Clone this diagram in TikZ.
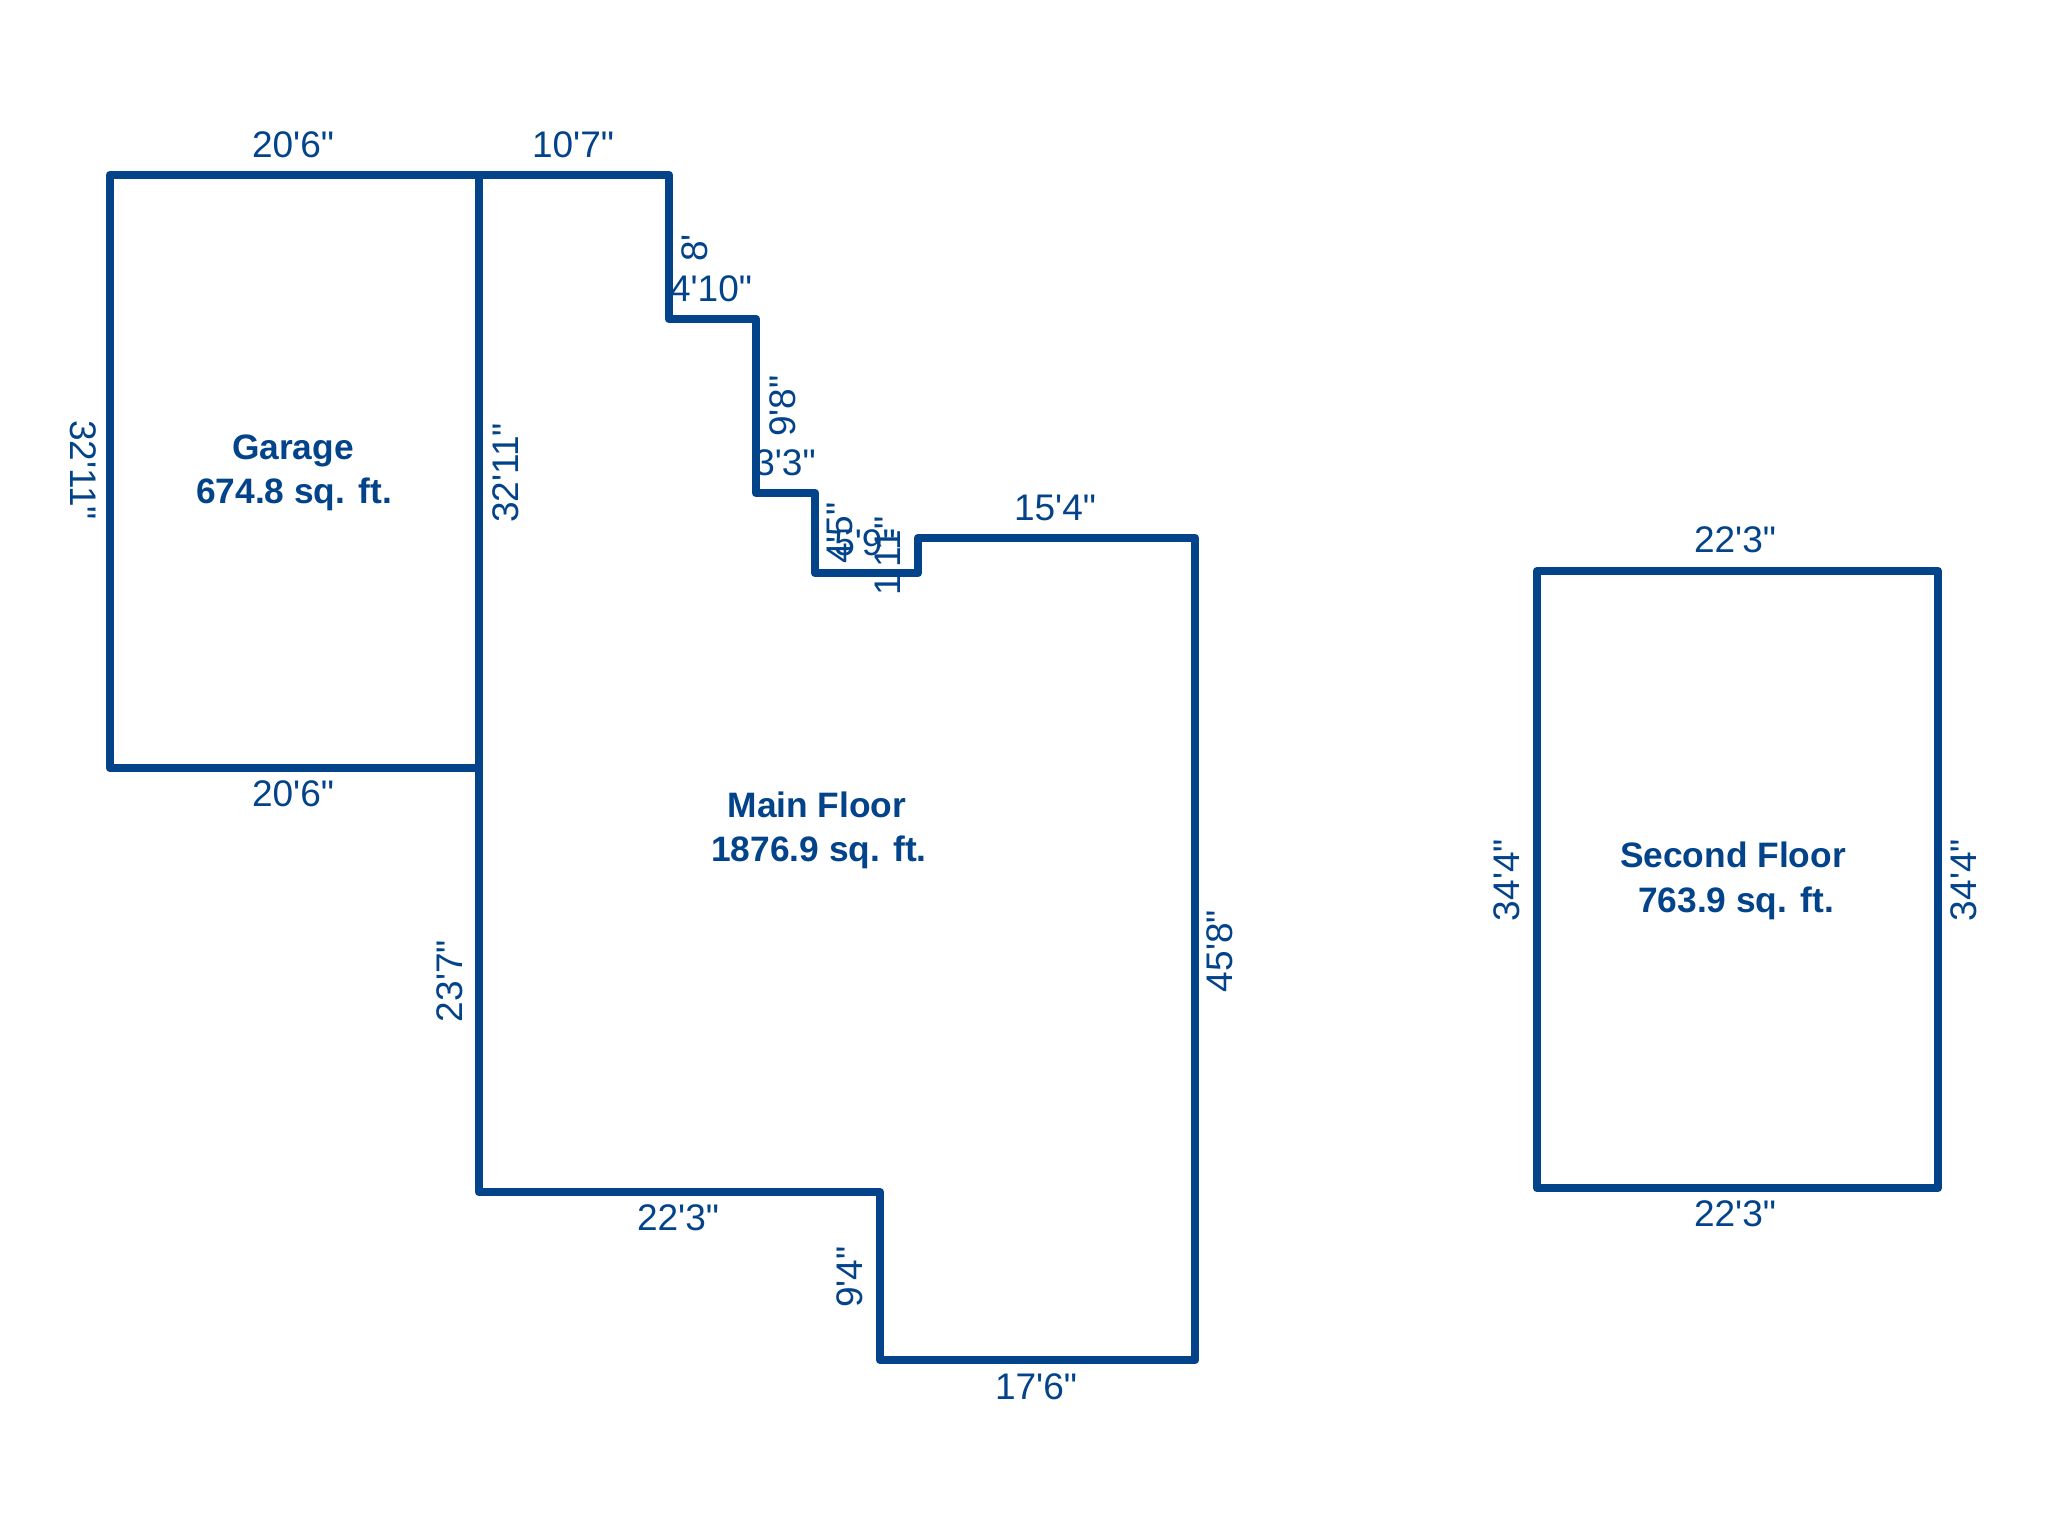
\documentclass[tikz,border=0pt]{standalone}
\usepackage{fontspec}
\newfontfamily\planfont{Liberation Sans}
\definecolor{planblue}{HTML}{03438A}
\tikzset{
  wall/.style={draw=planblue,line width=2.5pt,line join=round,line cap=round},
  dim/.style={text=planblue,inner sep=0pt,text height=7.6pt,text depth=0pt,
    font=\planfont\fontsize{10.53}{12}\selectfont},
  dimup/.style={dim,rotate=90},
  dimdown/.style={dim,rotate=-90},
  room/.style={text=planblue,inner sep=0pt,text height=7.3pt,text depth=0pt,
    font=\planfont\bfseries\fontsize{10.05}{12}\selectfont}
}
\begin{document}
\begin{tikzpicture}[x=0.01cm,y=-0.01cm]
  \useasboundingbox (0,0) rectangle (2048,1536);
  % garage
  \node (gartop) at (293,144) [dim] {20'6"};
  \node (garbot) at (293,793) [dim] {20'6"};
  \node (garleft) at (84,470) [dimdown] {32'11"};
  \node (garright) at (505,473) [dimup] {32'11"};
  \node (garname) at (293,447) [room] {Garage};
  \node (gararea) at (294,491) [room] {674.8 sq. ft.};
  % main floor
  \node (mtop) at (573,144) [dim] {10'7"};
  \node (mstepa) at (694,248) [dimup] {8'};
  \node (mstepb) at (711,288) [dim] {4'10"};
  \node (mstepc) at (782,406) [dimup] {9'8"};
  \node (mstepd) at (785,462) [dim] {3'3"};
  \node (mstepe) at (839,533) [dimup] {4'5"};
  \node (mstepf) at (865,542) [dim] {5'9"};
  \node (mstepg) at (887,556) [dimup] {1'11"};
  \node (mtopr) at (1055,507) [dim] {15'4"};
  \node (mright) at (1219,951) [dimup] {45'8"};
  \node (mbotr) at (1036,1386) [dim] {17'6"};
  \node (mnotch) at (849,1277) [dimup] {9'4"};
  \node (mbotl) at (678,1217) [dim] {22'3"};
  \node (mleft) at (449,981) [dimup] {23'7"};
  \node (mname) at (817,805) [room] {Main Floor};
  \node (marea) at (819,849) [room] {1876.9 sq. ft.};
  % second floor
  \node (stop) at (1735,539) [dim] {22'3"};
  \node (sbot) at (1735,1213) [dim] {22'3"};
  \node (sleft) at (1506,880) [dimup] {34'4"};
  \node (sright) at (1963,880) [dimup] {34'4"};
  \node (sname) at (1733,855) [room] {Second Floor};
  \node (sarea) at (1736,900) [room] {763.9 sq. ft.};
  % walls go over the labels
  \draw [wall] (110,175) rectangle (479,768);
  \draw [wall] (479,175) -- (669,175) -- (669,319) -- (756,319) -- (756,493)
    -- (815,493) -- (815,573) -- (918,573) -- (918,538) -- (1195,538)
    -- (1195,1360) -- (880,1360) -- (880,1192) -- (479,1192) -- cycle;
  \draw [wall] (1537,571) rectangle (1938,1188);
\end{tikzpicture}
\end{document}
